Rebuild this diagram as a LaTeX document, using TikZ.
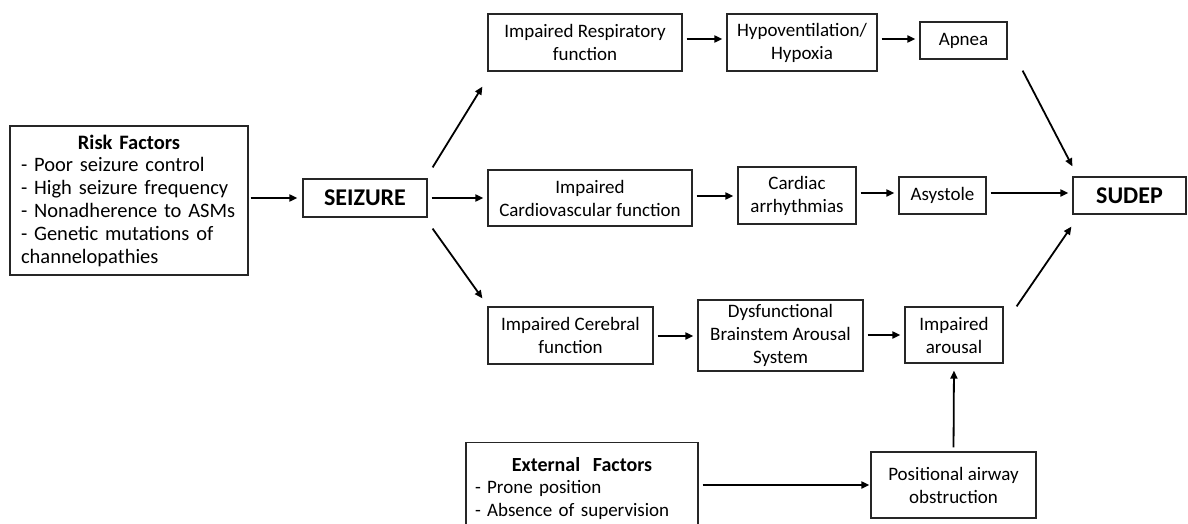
\documentclass[tikz,border=0pt]{standalone}
\usepackage{fontspec}
\setmainfont{Carlito}
\usetikzlibrary{arrows.meta}
\begin{document}
\begin{tikzpicture}[x=1pt,y=-1pt,
  box/.style={draw=black!85, line width=1.2pt, inner sep=2pt, align=center,
              font=\fontsize{19}{23}\selectfont},
  arr/.style={-{Triangle[length=8pt,width=7pt]}, line width=1.8pt},
  harr/.style={arr, shorten <=4pt, shorten >=4pt}]
\clip (0,0) rectangle (1188,524);
\fill[white] (0,0) rectangle (1188,524);

% nodes
\node[box, minimum width=238pt, minimum height=149pt, text width=216pt, align=left,
      font=\fontsize{20.5}{22.8}\selectfont] (risk) at (129,200.5)
  {\makebox[\hsize]{\bfseries Risk Factors}\\- Poor seizure control\\- High seizure frequency\\- Nonadherence to ASMs\\- Genetic mutations of\\channelopathies};
\node[box, minimum width=124pt, minimum height=38pt, font=\fontsize{24}{28}\selectfont\bfseries] (seizure) at (365,198) {SEIZURE};

\node[box, minimum width=194pt, minimum height=57pt] (resp) at (585,42.5) {Impaired Respiratory\\function};
\node[box, minimum width=150pt, minimum height=57pt] (hypo) at (802,42.5) {Hypoventilation/\\Hypoxia};
\node[box, minimum width=87pt, minimum height=37pt] (apnea) at (963.5,40.5) {Apnea};

\node[box, minimum width=204pt, minimum height=56pt] (cardio) at (590,198) {Impaired\\Cardiovascular function};
\node[box, minimum width=118pt, minimum height=57pt] (cardiac) at (797,195.5) {Cardiac\\arrhythmias};
\node[box, minimum width=87pt, minimum height=37pt] (asystole) at (942.5,195.5) {Asystole};
\node[box, minimum width=113pt, minimum height=37pt, font=\fontsize{24}{28}\selectfont\bfseries] (sudep) at (1129.5,195.5) {SUDEP};

\node[box, minimum width=165pt, minimum height=57pt] (cerebral) at (570.5,335.5) {Impaired Cerebral\\function};
\node[box, minimum width=165pt, minimum height=71pt] (dysf) at (780.5,335.5) {Dysfunctional\\Brainstem Arousal\\System};
\node[box, minimum width=98pt, minimum height=56pt] (arousal) at (954,335) {Impaired\\arousal};

\node[box, minimum width=165pt, minimum height=66pt] (positional) at (953.5,485) {Positional airway\\obstruction};
\node[box, minimum width=232pt, minimum height=92pt, text width=214pt, align=left,
      font=\fontsize{19}{22.5}\selectfont] (external) at (582,488.5)
  {\makebox[\hsize]{\fontsize{20}{22.5}\selectfont\bfseries External\ \ Factors}\\- Prone position\\- Absence of supervision};

% connectors
\draw[arr, shorten <=2pt, shorten >=5pt] (seizure.west -| risk.east) -- (seizure.west);
\draw[arr] ([shift={(5,-11)}]seizure.north east) -- ([shift={(-5,15)}]resp.south west);
\draw[harr] (seizure.east) -- (cardio.west);
\draw[arr] ([shift={(5,11)}]seizure.south east) -- ([shift={(-5,-8)}]cerebral.north west);

\draw[harr] ([yshift=3.5pt]resp.east) -- ([yshift=3.5pt]hypo.west);
\draw[harr] ([yshift=3.5pt]hypo.east) -- ([yshift=3.5pt]hypo.east -| apnea.west);
\draw[arr] ([shift={(15,11)}]apnea.south east) -- ([shift={(0,-10)}]sudep.north west);

\draw[harr] ([yshift=2pt]cardio.east) -- ([yshift=2pt]cardio.east -| cardiac.west);
\draw[harr] ([yshift=2.5pt]cardiac.east) -- ([yshift=2.5pt]asystole.west);
\draw[harr] ([yshift=2.5pt]asystole.east) -- ([yshift=2.5pt]sudep.west);

\draw[harr] ([yshift=-0.5pt]cerebral.east) -- ([yshift=-0.5pt]cerebral.east -| dysf.west);
\draw[harr] (arousal.west -| dysf.east) -- (arousal.west);
\draw[arr] ([shift={(13,0)}]arousal.north east) -- ([shift={(-1,12)}]sudep.south west);

\draw[arr, shorten <=4pt, shorten >=7pt] (positional.north) -- (arousal.south);
\draw[arr, shorten <=4pt, shorten >=1pt] (positional.west -| external.east) -- (positional.west);
\end{tikzpicture}
\end{document}
